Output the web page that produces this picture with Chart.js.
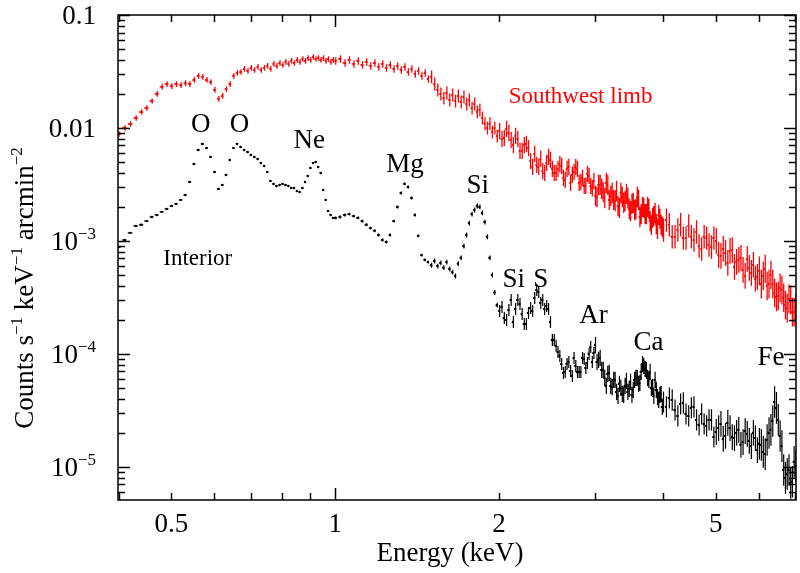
<!DOCTYPE html>
<html>
<head>
<meta charset="utf-8">
<script src="https://cdn.jsdelivr.net/npm/chart.js@4.4.1/dist/chart.umd.min.js"></script>
<style>
  body { margin: 0; background: #fff; }
  #wrap { width: 800px; height: 573px; }
</style>
</head>
<body>
<div id="wrap"><canvas id="spec" width="800" height="573"></canvas></div>
<script>
// Energy grid (keV)
const energy = [
  0.40, 0.41, 0.42, 0.43, 0.44, 0.45, 0.46, 0.47, 0.48, 0.49,
  0.50, 0.51, 0.52, 0.53, 0.54, 0.55, 0.56, 0.57, 0.58, 0.59,
  0.60, 0.61, 0.62, 0.63, 0.64, 0.65, 0.66, 0.67, 0.68, 0.69,
  0.70, 0.71, 0.72, 0.73, 0.74, 0.75, 0.76, 0.77, 0.78, 0.79,
  0.80, 0.81, 0.82, 0.83, 0.84, 0.85, 0.86, 0.87, 0.88, 0.89,
  0.90, 0.91, 0.92, 0.93, 0.94, 0.95, 0.96, 0.97, 0.98, 0.99,
  1.00,
  1.02, 1.04, 1.06, 1.08, 1.10, 1.12, 1.14, 1.16, 1.18, 1.20,
  1.22, 1.24, 1.26, 1.28, 1.30, 1.32, 1.34, 1.36, 1.38, 1.40,
  1.42, 1.44, 1.46, 1.48, 1.50, 1.52, 1.54, 1.56, 1.58, 1.60,
  1.62, 1.64, 1.66, 1.68, 1.70, 1.72, 1.74, 1.76, 1.78, 1.80,
  1.82, 1.84, 1.86, 1.88, 1.90, 1.92, 1.94, 1.96, 1.98, 2.00,
  2.04, 2.08, 2.12, 2.16, 2.20, 2.24, 2.28, 2.32, 2.36, 2.40,
  2.44, 2.48, 2.52, 2.56, 2.60, 2.64, 2.68, 2.72, 2.76, 2.80,
  2.84, 2.88, 2.92, 2.96, 3.00, 3.04, 3.08, 3.12, 3.16, 3.20,
  3.24, 3.28, 3.32, 3.36, 3.40, 3.44, 3.48, 3.52, 3.56, 3.60,
  3.64, 3.68, 3.72, 3.76, 3.80, 3.84, 3.88, 3.92, 3.96, 4.00,
  4.1, 4.2, 4.3, 4.4, 4.5, 4.6, 4.7, 4.8, 4.9, 5.0,
  5.1, 5.2, 5.3, 5.4, 5.5, 5.6, 5.7, 5.8, 5.9, 6.0,
  6.1, 6.2, 6.3, 6.4, 6.5, 6.6, 6.7, 6.8, 6.9, 7.0
];

// Interior spectrum (counts s^-1 keV^-1 arcmin^-2)
const interior = [
  8.85e-4, 1.02e-3, 1.18e-3, 1.36e-3, 1.39e-3, 1.50e-3, 1.63e-3, 1.70e-3, 1.81e-3, 1.92e-3,
  2.04e-3, 2.13e-3, 2.31e-3, 2.55e-3, 3.33e-3, 4.80e-3, 6.39e-3, 7.22e-3, 6.65e-3, 5.54e-3,
  4.08e-3, 2.88e-3, 3.13e-3, 3.84e-3, 5.21e-3, 6.65e-3, 7.22e-3, 6.79e-3, 6.39e-3, 6.13e-3,
  5.77e-3, 5.54e-3, 5.32e-3, 4.90e-3, 4.61e-3, 4.08e-3, 3.40e-3, 3.20e-3, 3.07e-3, 3.13e-3,
  3.20e-3, 3.13e-3, 3.07e-3, 2.94e-3, 2.94e-3, 2.77e-3, 2.71e-3, 2.94e-3, 3.33e-3, 3.76e-3,
  4.43e-3, 4.90e-3, 5.00e-3, 4.52e-3, 4.00e-3, 2.83e-3, 2.31e-3, 1.84e-3, 1.70e-3, 1.60e-3,
  1.60e-3,
  1.63e-3, 1.70e-3, 1.73e-3, 1.66e-3, 1.60e-3, 1.50e-3, 1.39e-3, 1.30e-3, 1.23e-3, 1.13e-3,
  1.02e-3, 9.8e-4, 1.13e-3, 1.50e-3, 2.00e-3, 2.66e-3, 3.20e-3, 3.00e-3, 2.40e-3, 1.70e-3,
  1.11e-3, 7.5e-4, 6.8e-4, 6.5e-4, 6.1e-4, 6.65e-4, 6.0e-4, 6.4e-4, 5.8e-4, 6.5e-4,
  5.65e-4, 5.3e-4, 4.9e-4, 6.3e-4, 7.1e-4, 9.0e-4, 1.13e-3, 1.44e-3, 1.73e-3, 1.88e-3,
  2.04e-3, 2.00e-3, 1.77e-3, 1.47e-3, 1.09e-3, 7.1e-4, 5.0e-4, 3.5e-4, 2.7e-4, 2.4e-4,
  2.08e-4, 2.45e-4, 1.92e-4, 3.0e-4, 2.26e-4, 1.84e-4, 2.55e-4, 3.13e-4, 3.54e-4, 3.0e-4,
  2.66e-4, 1.92e-4, 1.33e-4, 1.04e-4, 8.15e-5, 6.93e-5, 8.5e-5, 6.39e-5, 7.83e-5, 6.93e-5,
  9.22e-5, 7.52e-5, 1.0e-4, 8.5e-5, 1.2e-4, 8.85e-5, 7.22e-5, 6.13e-5, 6.65e-5, 5.21e-5,
  5.89e-5, 4.61e-5, 5.43e-5, 4.43e-5, 5.21e-5, 4.61e-5, 5.65e-5, 4.8e-5, 6.13e-5, 5.43e-5,
  6.93e-5, 7.83e-5, 7.22e-5, 5.89e-5, 5.0e-5, 4.25e-5, 4.8e-5, 3.92e-5, 4.43e-5, 3.76e-5,
  4.08e-5, 3.19e-5, 3.61e-5, 2.94e-5, 3.33e-5, 2.61e-5, 2.94e-5, 2.31e-5, 2.61e-5, 2.04e-5,
  2.40e-5, 1.88e-5, 2.21e-5, 1.80e-5, 2.13e-5, 1.66e-5, 1.96e-5, 1.53e-5, 1.80e-5, 1.60e-5,
  1.36e-5, 1.73e-5, 2.13e-5, 3.76e-5, 2.61e-5, 1.53e-5, 8.0e-6, 9.4e-6, 7.4e-6, 1.02e-5
];

// Southwest limb spectrum
const limb = [
  8.85e-3, 0.0100, 0.01085, 0.01226, 0.01385, 0.01503, 0.01733, 0.0200, 0.0231, 0.0245,
  0.0235, 0.0245, 0.0240, 0.0250, 0.0245, 0.0266, 0.0289, 0.0283, 0.0266, 0.0255,
  0.0217, 0.0181, 0.0192, 0.0221, 0.0245, 0.0289, 0.0307, 0.0313, 0.0333, 0.0320,
  0.0340, 0.0326, 0.0347, 0.0326, 0.0340, 0.0354, 0.0333, 0.0369, 0.0354, 0.0376,
  0.0361, 0.0384, 0.0369, 0.0392, 0.0376, 0.0400, 0.0384, 0.0408, 0.0392, 0.0416,
  0.0400, 0.0425, 0.0408, 0.0416, 0.0400, 0.0416, 0.0392, 0.0408, 0.0384, 0.0400,
  0.0392,
  0.0408, 0.0376, 0.0400, 0.0369, 0.0392, 0.0361, 0.0384, 0.0354, 0.0376, 0.0347,
  0.0369, 0.0340, 0.0361, 0.0333, 0.0354, 0.0326, 0.0347, 0.0313, 0.0333, 0.0300,
  0.0320, 0.0289, 0.0307, 0.0271, 0.0283, 0.0245, 0.0217, 0.0200, 0.0184, 0.0204,
  0.0177, 0.0196, 0.0173, 0.0192, 0.0170, 0.0188, 0.0163, 0.0177, 0.0150, 0.0163,
  0.0139, 0.0144, 0.0123, 0.0109, 0.0100, 0.0109, 0.0092, 0.0100, 0.0085, 0.0094,
  8.16e-3, 9.03e-3, 7.07e-3, 7.99e-3, 6.26e-3, 7.22e-3, 5.10e-3, 5.89e-3, 4.52e-3, 4.16e-3,
  4.90e-3, 5.21e-3, 4.00e-3, 4.34e-3, 4.61e-3, 3.47e-3, 4.52e-3, 3.84e-3, 4.52e-3, 3.26e-3,
  3.61e-3, 3.07e-3, 3.76e-3, 2.94e-3, 2.50e-3, 3.13e-3, 2.89e-3, 2.40e-3, 3.13e-3, 2.50e-3,
  2.31e-3, 2.77e-3, 1.96e-3, 2.45e-3, 2.26e-3, 2.40e-3, 1.84e-3, 2.17e-3, 1.92e-3, 2.31e-3,
  1.73e-3, 1.96e-3, 1.73e-3, 1.92e-3, 1.39e-3, 1.66e-3, 1.41e-3, 1.70e-3, 1.39e-3, 1.25e-3,
  1.39e-3, 1.09e-3, 1.39e-3, 1.06e-3, 1.09e-3, 1.20e-3, 8.5e-4, 1.06e-3, 8.85e-4, 1.0e-3,
  7.37e-4, 7.83e-4, 8.16e-4, 5.89e-4, 6.79e-4, 5.54e-4, 6.93e-4, 5.21e-4, 4.61e-4, 5.43e-4,
  4.90e-4, 4.00e-4, 5.0e-4, 3.47e-4, 3.26e-4, 3.68e-4, 2.71e-4, 3.07e-4, 2.35e-4, 2.55e-4
];

// extra bins above 2 keV, lying between the grid points above
const energyFine = [
  2.02, 2.06, 2.10, 2.14, 2.18, 2.22, 2.26, 2.30, 2.34, 2.38,
  2.42, 2.46, 2.50, 2.54, 2.58, 2.62, 2.66, 2.70, 2.74, 2.78,
  2.82, 2.86, 2.90, 2.94, 2.98, 3.02, 3.06, 3.10, 3.14, 3.18,
  3.22, 3.26, 3.30, 3.34, 3.38, 3.42, 3.46, 3.50, 3.54, 3.58,
  3.62, 3.66, 3.70, 3.74, 3.78, 3.82, 3.86, 3.90, 3.94, 3.98,
  4.05, 4.15, 4.25, 4.35, 4.45, 4.55, 4.65, 4.75, 4.85, 4.95,
  5.05, 5.15, 5.25, 5.35, 5.45, 5.55, 5.65, 5.75, 5.85, 5.95,
  6.05, 6.15, 6.25, 6.35, 6.45, 6.55, 6.65, 6.75, 6.85, 6.95
];
const interiorFine = [
  2.61e-4, 2.0e-4, 3.0e-4, 2.50e-4, 2.77e-4, 1.84e-4, 2.31e-4, 2.40e-4, 3.69e-4, 2.83e-4,
  2.50e-4, 2.50e-4, 1.33e-4, 1.18e-4, 9.6e-5, 6.79e-5, 8.15e-5, 7.07e-5, 9.22e-5, 6.93e-5,
  6.93e-5, 9.03e-5, 8.32e-5, 1.15e-4, 1.02e-4, 8.5e-5, 9.22e-5, 7.22e-5, 5.21e-5, 6.79e-5,
  5.10e-5, 5.89e-5, 4.25e-5, 5.0e-5, 4.34e-5, 5.77e-5, 4.90e-5, 4.34e-5, 5.89e-5, 6.13e-5,
  5.54e-5, 8.15e-5, 7.37e-5, 6.13e-5, 6.93e-5, 5.10e-5, 5.89e-5, 4.16e-5, 4.34e-5, 3.40e-5,
  3.40e-5, 3.92e-5, 2.83e-5, 3.69e-5, 2.83e-5, 3.40e-5, 2.35e-5, 2.40e-5, 2.61e-5, 1.84e-5,
  2.21e-5, 1.77e-5, 2.45e-5, 1.84e-5, 2.00e-5, 1.57e-5, 2.08e-5, 1.70e-5, 2.00e-5, 1.41e-5,
  1.57e-5, 1.30e-5, 2.00e-5, 2.55e-5, 3.33e-5, 1.88e-5, 9.4e-6, 8.67e-6, 7.22e-6, 1.11e-5
];
const limbFine = [
  7.99e-3, 9.80e-3, 7.83e-3, 8.50e-3, 6.26e-3, 7.07e-3, 6.65e-3, 4.52e-3, 4.71e-3, 5.32e-3,
  4.00e-3, 5.54e-3, 4.34e-3, 4.00e-3, 4.80e-3, 3.61e-3, 4.34e-3, 3.26e-3, 4.08e-3, 4.34e-3,
  3.33e-3, 3.07e-3, 3.92e-3, 3.07e-3, 3.40e-3, 2.45e-3, 3.13e-3, 2.71e-3, 3.26e-3, 2.31e-3,
  2.66e-3, 2.26e-3, 2.04e-3, 2.66e-3, 2.17e-3, 2.61e-3, 1.92e-3, 2.13e-3, 1.88e-3, 2.45e-3,
  1.63e-3, 2.00e-3, 1.73e-3, 2.00e-3, 1.50e-3, 1.60e-3, 1.77e-3, 1.28e-3, 1.57e-3, 1.33e-3,
  1.53e-3, 1.09e-3, 1.25e-3, 1.06e-3, 1.36e-3, 1.02e-3, 9.03e-4, 1.09e-3, 9.22e-4, 1.06e-3,
  7.52e-4, 8.50e-4, 6.39e-4, 8.32e-4, 6.52e-4, 7.07e-4, 4.90e-4, 5.77e-4, 6.13e-4, 4.80e-4,
  4.16e-4, 5.65e-4, 4.16e-4, 4.16e-4, 3.20e-4, 3.84e-4, 3.13e-4, 2.55e-4, 3.00e-4, 2.35e-4
];

// fractional 1-sigma errors, by energy band starting at errEdges[k]
const errEdges = [0.4, 1.0, 1.5, 2.0, 3.0, 4.0, 5.0, 6.0];
const interiorErr = [0.02, 0.03, 0.05, 0.13, 0.18, 0.24, 0.30, 0.38];
const limbErr = [0.06, 0.08, 0.14, 0.18, 0.23, 0.27, 0.30, 0.34];

// axis ticks
const xLabelValues = [0.5, 1, 2, 5];
const xLabels = ['0.5', '1', '2', '5'];
const xMinorValues = [0.4, 0.5, 0.6, 0.7, 0.8, 0.9, 2, 3, 4, 5, 6, 7];
const xMajorValues = [1];
const yLabelValues = [0.1, 0.01, 1e-3, 1e-4, 1e-5];
const yLabels = [['0.1', ''], ['0.01', ''], ['10', '\u22123'], ['10', '\u22124'], ['10', '\u22125']];

// line identifications
const lineNames = ['O', 'O', 'Ne', 'Mg', 'Si', 'Si', 'S', 'Ar', 'Ca', 'Fe'];
const lineEnergy = [0.566, 0.667, 0.896, 1.343, 1.827, 2.127, 2.384, 2.981, 3.76, 6.316];
const lineLevel = [9.22e-3, 9.22e-3, 6.65e-3, 4.08e-3, 2.66e-3, 3.92e-4, 3.92e-4, 1.88e-4, 1.085e-4, 7.99e-5];

const SERIF = '"Liberation Serif", "DejaVu Serif", serif';

function errFor(arr, e) {
    let k = 0;
    while (k + 1 < errEdges.length && e >= errEdges[k + 1]) k++;
    return arr[k];
}

// merge coarse and fine bins into one sorted point list
function spectrum(vals, fineVals) {
    const pts = energy.map((e, i) => ({ x: e, y: vals[i] }));
    energyFine.forEach((e, i) => pts.push({ x: e, y: fineVals[i] }));
    return pts.sort((a, b) => a.x - b.x);
}

// text with superscript parts; parts = [[text, isSup], ...]
function richWidth(ctx, parts, size, supSize) {
    let w = 0;
    parts.forEach(p => {
        ctx.font = (p[1] ? supSize : size) + 'px ' + SERIF;
        w += ctx.measureText(p[0]).width;
    });
    return w;
}
function drawRich(ctx, parts, x, y, size, supSize, rise) {
    let cx = x;
    parts.forEach(p => {
        ctx.font = (p[1] ? supSize : size) + 'px ' + SERIF;
        ctx.fillText(p[0], cx, p[1] ? y - rise : y);
        cx += ctx.measureText(p[0]).width;
    });
}

const errorBars = {
    id: 'errorBars',
    beforeDatasetsDraw(chart) {
        const ctx = chart.ctx;
        const xs = chart.scales.x, ys = chart.scales.y;
        const area = chart.chartArea;
        ctx.save();
        ctx.beginPath();
        ctx.rect(area.left, area.top, area.right - area.left, area.bottom - area.top);
        ctx.clip();
        chart.data.datasets.forEach(ds => {
            const errs = ds.errs;
            ctx.strokeStyle = ds.borderColor;
            ctx.lineWidth = ds.barWidth;
            ctx.beginPath();
            ds.data.forEach((pt, i) => {
                const px = xs.getPixelForValue(pt.x);
                const prev = i > 0 ? xs.getPixelForValue(ds.data[i - 1].x) : px - (xs.getPixelForValue(ds.data[i + 1].x) - px);
                const next = i < ds.data.length - 1 ? xs.getPixelForValue(ds.data[i + 1].x) : px + (px - prev);
                const f = errFor(errs, pt.x);
                const yHi = ys.getPixelForValue(pt.y * (1 + f));
                const yLo = ys.getPixelForValue(pt.y / (1 + f));
                const py = ys.getPixelForValue(pt.y);
                ctx.moveTo(px + 0.5, yHi);
                ctx.lineTo(px + 0.5, yLo);
                ctx.moveTo((px + prev) / 2 + 0.5, py);
                ctx.lineTo((px + next) / 2 - 0.5, py);
            });
            ctx.stroke();
        });
        ctx.restore();
    }
};

const frame = {
    id: 'frame',
    afterDraw(chart) {
        const ctx = chart.ctx;
        const xs = chart.scales.x, ys = chart.scales.y;
        const a = chart.chartArea;
        ctx.save();
        ctx.strokeStyle = '#000';
        ctx.lineWidth = 1.5;
        ctx.strokeRect(a.left, a.top, a.right - a.left, a.bottom - a.top);

        // x ticks, bottom and top, pointing inward
        ctx.beginPath();
        const xTick = (v, len) => {
            const px = Math.round(xs.getPixelForValue(v)) + 0.5;
            ctx.moveTo(px, a.bottom); ctx.lineTo(px, a.bottom - len);
            ctx.moveTo(px, a.top); ctx.lineTo(px, a.top + len);
        };
        xMinorValues.forEach(v => xTick(v, 7));
        xMajorValues.forEach(v => xTick(v, 12));

        // y ticks, left and right
        const yTick = (v, len) => {
            const py = Math.round(ys.getPixelForValue(v)) + 0.5;
            ctx.moveTo(a.left, py); ctx.lineTo(a.left + len, py);
            ctx.moveTo(a.right, py); ctx.lineTo(a.right - len, py);
        };
        for (let d = -6; d <= -1; d++) {
            for (let k = 1; k <= 9; k++) {
                const v = k * Math.pow(10, d);
                if (v < ys.min || v > ys.max * 1.0001) continue;
                yTick(v, k === 1 ? 12 : 7);
            }
        }
        ctx.stroke();

        ctx.fillStyle = '#000';
        ctx.textBaseline = 'alphabetic';

        // x tick labels
        ctx.font = '27px ' + SERIF;
        ctx.textAlign = 'center';
        xLabelValues.forEach((v, i) => {
            ctx.fillText(xLabels[i], xs.getPixelForValue(v), 532);
        });

        // y tick labels
        ctx.textAlign = 'left';
        yLabelValues.forEach((v, i) => {
            const parts = [[yLabels[i][0], false], [yLabels[i][1], true]];
            const w = richWidth(ctx, parts, 27, 17);
            drawRich(ctx, parts, 96 - w, ys.getPixelForValue(v) + 9, 27, 17, 11);
        });

        // axis titles
        ctx.font = '27px ' + SERIF;
        ctx.textAlign = 'center';
        ctx.fillText('Energy (keV)', 450, 561);

        const yTitle = [['Counts s', false], ['\u22121', true], [' keV', false], ['\u22121', true], [' arcmin', false], ['\u22122', true]];
        ctx.save();
        ctx.translate(33, 288);
        ctx.rotate(-Math.PI / 2);
        ctx.textAlign = 'left';
        const tw = richWidth(ctx, yTitle, 27, 17);
        drawRich(ctx, yTitle, -tw / 2, 0, 27, 17, 11);
        ctx.restore();

        // line names
        ctx.font = '27px ' + SERIF;
        ctx.textAlign = 'center';
        lineNames.forEach((n, i) => {
            ctx.fillText(n, xs.getPixelForValue(lineEnergy[i]), ys.getPixelForValue(lineLevel[i]));
        });

        // region names
        ctx.font = '23px ' + SERIF;
        ctx.fillText('Interior', xs.getPixelForValue(0.559), ys.getPixelForValue(6.13e-4));
        ctx.fillStyle = '#ff0000';
        ctx.fillText('Southwest limb', xs.getPixelForValue(2.822), ys.getPixelForValue(0.01664));
        ctx.restore();
    }
};

const ctx = document.getElementById('spec').getContext('2d');
window.specChart = new Chart(ctx, {
    type: 'scatter',
    data: {
        datasets: [
            {
                label: 'Southwest limb',
                data: spectrum(limb, limbFine),
                errs: limbErr,
                barWidth: 1.3,
                borderColor: '#ff0000',
                backgroundColor: '#ff0000',
                pointRadius: 1,
                borderWidth: 0
            },
            {
                label: 'Interior',
                data: spectrum(interior, interiorFine),
                errs: interiorErr,
                barWidth: 1.2,
                borderColor: '#000000',
                backgroundColor: '#000000',
                pointRadius: 1.2,
                borderWidth: 0
            }
        ]
    },
    options: {
        responsive: false,
        animation: false,
        devicePixelRatio: 1,
        layout: { padding: { left: 118, right: 2, top: 15, bottom: 73 } },
        plugins: {
            legend: { display: false },
            tooltip: { enabled: false }
        },
        scales: {
            x: { type: 'logarithmic', min: 0.399, max: 7.02, display: false },
            y: { type: 'logarithmic', min: 5.1e-6, max: 0.1, display: false }
        }
    },
    plugins: [errorBars, frame]
});
</script>
</body>
</html>
